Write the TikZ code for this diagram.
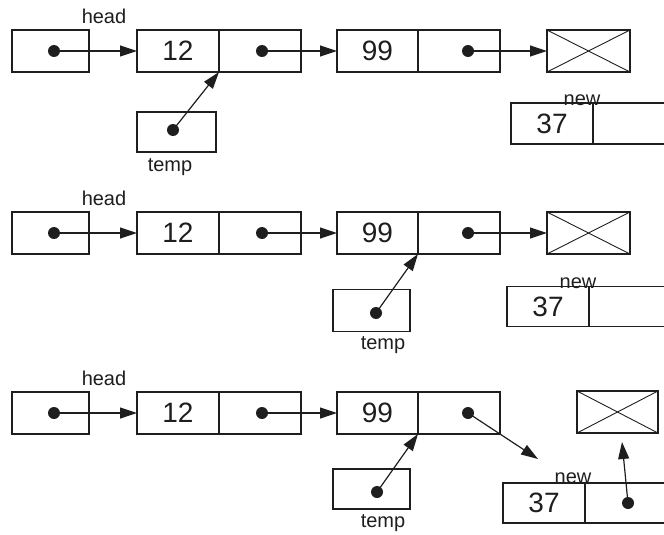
\documentclass[tikz,border=0pt]{standalone}
\usepackage{fontspec}
\setmainfont{Liberation Sans}
\definecolor{ink}{HTML}{1E1E1E}
\usepackage{tikz}
\usetikzlibrary{arrows.meta, positioning}

\tikzset{
	cell/.style={draw=ink, line width=1.3pt, minimum width=82pt, minimum height=42pt,
		inner sep=0pt, outer sep=0pt, text=ink, font=\fontsize{28}{30}\selectfont},
	ptrdot/.style={circle, fill=ink, minimum size=12pt, inner sep=0pt},
	ptr/.style={draw=ink, line width=1.2pt, -{Triangle[length=17pt,width=11pt]}},
	lbl/.style={inner sep=0pt, text=ink, font=\fontsize{20}{22}\selectfont},
	nil/.style={cell, minimum width=83pt}
}

\begin{document}
\begin{tikzpicture}[x=1pt, y=-1pt]
	\useasboundingbox (0,0) rectangle (664,535);

	% the list head -> 12 -> 99, same in every row
	\foreach \i/\o in {1/0, 2/182, 3/362}{
		\begin{scope}[shift={(0,\o)}]
			\node[cell, minimum width=77pt, anchor=west] (head\i) at (12,51) {};
			\node[lbl] (hlbl\i) at (104,16) {head};
			\node[cell, anchor=west] (n1val\i) at (137,51) {12};
			\node[cell, right=0pt of n1val\i] (n1nxt\i) {};
			\node[cell, minimum width=81pt, anchor=west] (n2val\i) at (337,51) {99};
			\node[cell, right=0pt of n2val\i] (n2nxt\i) {};
			\node[ptrdot] (hd\i) at (54,51) {};
			\node[ptrdot] (n1d\i) at (262,51) {};
			\node[ptrdot] (n2d\i) at (468,51) {};
			\draw[ptr] (hd\i.center) -- (n1val\i.west);
			\draw[ptr] (n1d\i.center) -- (n2val\i.west);
		\end{scope}
	}

	% null boxes
	\node[nil, anchor=west] (nil1) at (547,51) {};
	\node[nil, anchor=west] (nil2) at (547,233) {};
	\node[nil, minimum width=81pt, anchor=west] (nil3) at (577,412) {};
	\foreach \i in {1,2,3}{
		\draw[ink, line width=0.9pt] (nil\i.north west) -- (nil\i.south east)
			(nil\i.south west) -- (nil\i.north east);
	}
	\draw[ptr] (n2d1.center) -- (nil1.west);
	\draw[ptr] (n2d2.center) -- (nil2.west);

	% row 1
	\node[cell, minimum width=79pt, minimum height=40pt] (tmp1) at (176.5,132) {};
	\node[ptrdot] (td1) at (173,130) {};
	\node[lbl] (tlbl1) at (170,167) {temp};
	\draw[ptr] (td1.center) -- (n1val1.south east);
	\node[cell, minimum height=41pt, anchor=west] (newval1) at (511,123.5) {37};
	\node[cell, minimum height=41pt, right=0pt of newval1] (newnxt1) {};
	\node[lbl, anchor=base] (nlbl1) at (582,105) {new};

	% row 2
	\node[cell, minimum width=77pt, minimum height=42pt] (tmp2) at (371.5,310.5) {};
	\node[ptrdot] (td2) at (376,313) {};
	\node[lbl] (tlbl2) at (383,345) {temp};
	\draw[ptr] (td2.center) -- (n2val2.south east);
	\node[cell, minimum height=40pt, anchor=west] (newval2) at (507,306.5) {37};
	\node[cell, minimum height=40pt, right=0pt of newval2] (newnxt2) {};
	\node[lbl, anchor=base] (nlbl2) at (578,288) {new};

	% row 3
	\node[cell, minimum width=77pt, minimum height=40pt] (tmp3) at (371.5,489) {};
	\node[ptrdot] (td3) at (377,492) {};
	\node[lbl] (tlbl3) at (383,523) {temp};
	\draw[ptr] (td3.center) -- (n2val3.south east);
	\node[cell, minimum height=40pt, anchor=west] (newval3) at (503,503) {37};
	\node[cell, minimum height=40pt, right=0pt of newval3] (newnxt3) {};
	\node[lbl, anchor=base] (nlbl3) at (573,483) {new};
	\node[ptrdot] (nd3) at (628,503) {};
	\coordinate (up3) at (622,442);
	\coordinate (down3) at (538,459);
	\draw[ptr] (nd3.center) -- (up3);
	\draw[ptr] (n2d3.center) -- (down3);
\end{tikzpicture}
\end{document}
